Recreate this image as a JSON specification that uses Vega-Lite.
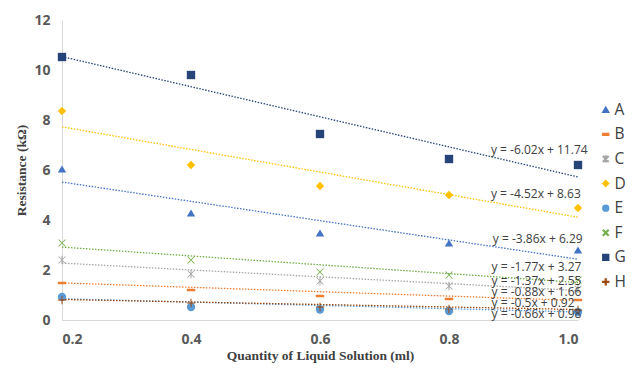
{
  "$schema": "https://vega.github.io/schema/vega-lite/v6.json",
  "width": 516,
  "height": 300,
  "autosize": {"type": "none"},
  "padding": {"left": 62, "top": 20, "right": 56, "bottom": 49},
  "background": "white",
  "config": {"view": {"stroke": null}},
  "datasets": {
    "points": [
      {"series": "A", "x": 0.2, "y": 6.04}, {"series": "A", "x": 0.4, "y": 4.28}, {"series": "A", "x": 0.6, "y": 3.48}, {"series": "A", "x": 0.8, "y": 3.08}, {"series": "A", "x": 1.0, "y": 2.8},
      {"series": "B", "x": 0.2, "y": 1.48}, {"series": "B", "x": 0.4, "y": 1.2}, {"series": "B", "x": 0.6, "y": 0.96}, {"series": "B", "x": 0.8, "y": 0.84}, {"series": "B", "x": 1.0, "y": 0.8},
      {"series": "C", "x": 0.2, "y": 2.4}, {"series": "C", "x": 0.4, "y": 1.84}, {"series": "C", "x": 0.6, "y": 1.56}, {"series": "C", "x": 0.8, "y": 1.36}, {"series": "C", "x": 1.0, "y": 1.24},
      {"series": "D", "x": 0.2, "y": 8.36}, {"series": "D", "x": 0.4, "y": 6.2}, {"series": "D", "x": 0.6, "y": 5.36}, {"series": "D", "x": 0.8, "y": 5.0}, {"series": "D", "x": 1.0, "y": 4.48},
      {"series": "E", "x": 0.2, "y": 0.92}, {"series": "E", "x": 0.4, "y": 0.52}, {"series": "E", "x": 0.6, "y": 0.42}, {"series": "E", "x": 0.8, "y": 0.36}, {"series": "E", "x": 1.0, "y": 0.32},
      {"series": "F", "x": 0.2, "y": 3.08}, {"series": "F", "x": 0.4, "y": 2.4}, {"series": "F", "x": 0.6, "y": 1.92}, {"series": "F", "x": 0.8, "y": 1.8}, {"series": "F", "x": 1.0, "y": 1.6},
      {"series": "G", "x": 0.2, "y": 10.52}, {"series": "G", "x": 0.4, "y": 9.8}, {"series": "G", "x": 0.6, "y": 7.44}, {"series": "G", "x": 0.8, "y": 6.44}, {"series": "G", "x": 1.0, "y": 6.2},
      {"series": "H", "x": 0.2, "y": 0.8}, {"series": "H", "x": 0.4, "y": 0.68}, {"series": "H", "x": 0.6, "y": 0.52}, {"series": "H", "x": 0.8, "y": 0.44}, {"series": "H", "x": 1.0, "y": 0.4}
    ],
    "trends": [
      {"series": "A", "x": 0.2, "y": 5.518}, {"series": "A", "x": 1.0, "y": 2.43},
      {"series": "B", "x": 0.2, "y": 1.484}, {"series": "B", "x": 1.0, "y": 0.78},
      {"series": "C", "x": 0.2, "y": 2.276}, {"series": "C", "x": 1.0, "y": 1.18},
      {"series": "D", "x": 0.2, "y": 7.726}, {"series": "D", "x": 1.0, "y": 4.11},
      {"series": "E", "x": 0.2, "y": 0.848}, {"series": "E", "x": 1.0, "y": 0.32},
      {"series": "F", "x": 0.2, "y": 2.916}, {"series": "F", "x": 1.0, "y": 1.5},
      {"series": "G", "x": 0.2, "y": 10.536}, {"series": "G", "x": 1.0, "y": 5.72},
      {"series": "H", "x": 0.2, "y": 0.82}, {"series": "H", "x": 1.0, "y": 0.42}
    ],
    "labels": [
      {"x": 0.865, "y": 6.8, "label": "y = -6.02x + 11.74"},
      {"x": 0.865, "y": 5.04, "label": "y = -4.52x + 8.63"},
      {"x": 0.868, "y": 3.24, "label": "y = -3.86x + 6.29"},
      {"x": 0.866, "y": 2.12, "label": "y = -1.77x + 3.27"},
      {"x": 0.866, "y": 1.56, "label": "y = -1.37x + 2.55"},
      {"x": 0.866, "y": 1.12, "label": "y = -0.88x + 1.66"},
      {"x": 0.866, "y": 0.68, "label": "y = -0.5x + 0.92"},
      {"x": 0.866, "y": 0.24, "label": "y = -0.66x + 0.98"}
    ]
  },
  "layer": [
    {
      "data": {"name": "points"},
      "mark": {"type": "point", "filled": true, "opacity": 1, "size": 70},
      "encoding": {
        "x": {
          "field": "x", "type": "quantitative",
          "scale": {"domain": [0.2, 1.0], "nice": false, "zero": false},
          "axis": {
            "values": [0.2, 0.4, 0.6, 0.8, 1.0], "format": ".1f", "grid": false, "ticks": false,
            "domainColor": "#d9d9d9", "labelFont": "Open Sans", "labelFontWeight": "bold", "labelFontSize": 14,
            "labelColor": "#595959", "labelPadding": 12,
            "title": "Quantity of Liquid Solution (ml)", "titleFont": "Liberation Serif", "titleFontWeight": "bold",
            "titleFontSize": 13.5, "titleColor": "#404040", "titlePadding": 2
          }
        },
        "y": {
          "field": "y", "type": "quantitative",
          "scale": {"domain": [0, 12], "nice": false},
          "axis": {
            "values": [0, 2, 4, 6, 8, 10, 12], "grid": false, "ticks": false,
            "domainColor": "#d9d9d9", "labelFont": "Open Sans", "labelFontWeight": "bold", "labelFontSize": 14,
            "labelColor": "#595959", "labelPadding": 12,
            "title": "Resistance (kΩ)", "titleFont": "Liberation Serif", "titleFontWeight": "bold",
            "titleFontSize": 13.5, "titleColor": "#404040", "titlePadding": 5
          }
        },
        "color": {
          "field": "series", "type": "nominal",
          "scale": {"domain": ["A","B","C","D","E","F","G","H"], "range": ["#4472C4","#ED7D31","#A5A5A5","#FFC000","#5B9BD5","#70AD47","#264478","#9E480E"]},
          "legend": {
            "title": null, "orient": "none", "legendX": 536, "legendY": 82, "padding": 0,
            "labelFont": "Open Sans", "labelFontSize": 15.5, "labelColor": "#404040", "labelOffset": 1,
            "symbolSize": 34, "rowPadding": 7.6
          }
        },
        "shape": {
          "field": "series", "type": "nominal",
          "scale": {"domain": ["A","B","C","D","E","F","G","H"], "range": [
            "triangle-up",
            "M-1,-0.3L1,-0.3L1,0.3L-1,0.3Z",
            "M-0.9,-0.75L0.75,0.9L0.9,0.75L-0.75,-0.9ZM0.75,-0.9L-0.9,0.75L-0.75,0.9L0.9,-0.75ZM-0.12,-1L-0.12,1L0.12,1L0.12,-1Z",
            "diamond",
            "circle",
            "M-0.9,-0.75L0.75,0.9L0.9,0.75L-0.75,-0.9ZM0.75,-0.9L-0.9,0.75L-0.75,0.9L0.9,-0.75Z",
            "square",
            "M-0.12,-1L-0.12,1L0.12,1L0.12,-1ZM-1,0.12L1,0.12L1,-0.12L-1,-0.12Z"
          ]}
        }
      }
    },
    {
      "data": {"name": "trends"},
      "mark": {"type": "line", "strokeDash": [1.5, 1.5], "strokeWidth": 1.3},
      "encoding": {
        "x": {"field": "x", "type": "quantitative"},
        "y": {"field": "y", "type": "quantitative"},
        "color": {"field": "series", "type": "nominal"}
      }
    },
    {
      "data": {"name": "labels"},
      "mark": {"type": "text", "align": "left", "baseline": "middle", "font": "Open Sans", "fontSize": 12, "color": "#404040"},
      "encoding": {
        "x": {"field": "x", "type": "quantitative"},
        "y": {"field": "y", "type": "quantitative"},
        "text": {"field": "label"}
      }
    }
  ]
}
